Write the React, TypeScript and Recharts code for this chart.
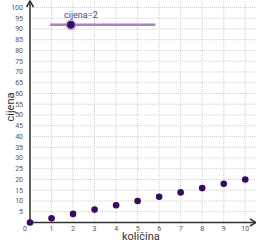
import { CartesianGrid, ReferenceDot, ReferenceLine, Scatter, ScatterChart, XAxis, YAxis } from "recharts";

const kolicina = [0, 1, 2, 3, 4, 5, 6, 7, 8, 9, 10];
const cijenaValues = [0, 2, 4, 6, 8, 10, 12, 14, 16, 18, 20];
const xTicks = [0, 1, 2, 3, 4, 5, 6, 7, 8, 9, 10];
const yTicks = [5, 10, 15, 20, 25, 30, 35, 40, 45, 50, 55, 60, 65, 70, 75, 80, 85, 90, 95, 100];

// slider (GeoGebra style), placed in data units
const sliderValue = 2;
const sliderFrom = 0.93;
const sliderTo = 5.82;
const sliderY = 91.9;
const sliderKnobX = 1.9;

const points = kolicina.map((k, i) => ({ x: k, y: cijenaValues[i] }));

const axisColor = "#333";
const knobColor = "#3a0868";
const sliderColor = "#a77fd0";

function XTick(props: any) {
  const { x, y, payload } = props;
  const dx = payload.value === 0 ? -5 : 0;
  return (
    <text x={x + dx} y={y} textAnchor="middle" fontSize={7} fill="#555" fontFamily="Roboto, sans-serif">
      {payload.value}
    </text>
  );
}

function YTick(props: any) {
  const { x, y, payload } = props;
  return (
    <text x={x + 1} y={y + 2.5} textAnchor="end" fontSize={7} fill="#555" fontFamily="Roboto, sans-serif">
      {payload.value}
    </text>
  );
}

function ArrowRight(props: any) {
  const { cx, cy } = props;
  return <path d={`M${cx - 6},${cy - 3.5} L${cx},${cy} L${cx - 6},${cy + 3.5}`} fill="none" stroke={axisColor} strokeWidth={1.5} />;
}

function ArrowUp(props: any) {
  const { cx, cy } = props;
  return <path d={`M${cx - 3.5},${cy + 6} L${cx},${cy} L${cx + 3.5},${cy + 6}`} fill="none" stroke={axisColor} strokeWidth={1.5} />;
}

function Knob(props: any) {
  const { cx, cy } = props;
  return (
    <g>
      <circle cx={cx} cy={cy} r={5.5} fill={sliderColor} opacity={0.6} />
      <circle cx={cx} cy={cy} r={3.8} fill={knobColor} />
      <text x={cx + 10} y={cy - 7} textAnchor="middle" fontSize={9} fill="#6a2fa5" fontFamily="Roboto, sans-serif">
        {`cijena=${sliderValue}`}
      </text>
    </g>
  );
}

function Dot(props: any) {
  const { cx, cy } = props;
  return <circle cx={cx} cy={cy} r={3.3} fill={knobColor} />;
}

export default function App() {
  return (
    <div style={{ position: "absolute", left: 0, top: 0, width: 256, height: 242, background: "#fff" }}>
      <ScatterChart width={256} height={242} margin={{ top: 1, right: 0, bottom: 0, left: 0 }}>
        <CartesianGrid stroke="#cfcfcf" strokeDasharray="1 1" horizontalValues={yTicks} verticalValues={xTicks} />
        <XAxis
          type="number"
          dataKey="x"
          domain={[0, 10.5]}
          ticks={xTicks}
          tickLine={false}
          axisLine={{ stroke: axisColor, strokeWidth: 1.5 }}
          tick={<XTick />}
          height={19.5}
          interval={0}
        />
        <YAxis
          type="number"
          dataKey="y"
          domain={[0, 103]}
          ticks={yTicks}
          tickLine={false}
          axisLine={{ stroke: axisColor, strokeWidth: 1.5 }}
          tick={<YTick />}
          width={30}
          interval={0}
        />
        <ReferenceLine
          segment={[{ x: sliderFrom, y: sliderY }, { x: sliderTo, y: sliderY }]}
          stroke={sliderColor}
          strokeWidth={2.5}
          ifOverflow="visible"
        />
        <ReferenceDot x={sliderKnobX} y={sliderY} r={5} shape={<Knob />} ifOverflow="visible" />
        <ReferenceDot x={10.5} y={0} r={1} shape={<ArrowRight />} ifOverflow="visible" />
        <ReferenceDot x={0} y={103} r={1} shape={<ArrowUp />} ifOverflow="visible" />
        <Scatter data={points} fill={knobColor} shape={<Dot />} isAnimationActive={false} />
      </ScatterChart>
      <div
        style={{
          position: "absolute",
          left: 122,
          top: 231,
          fontSize: 11,
          color: "#333",
          fontFamily: "Roboto, sans-serif",
          lineHeight: "12px",
        }}
      >
        količina
      </div>
      <div
        style={{
          position: "absolute",
          left: 11,
          top: 107,
          fontSize: 11,
          color: "#333",
          fontFamily: "Roboto, sans-serif",
          transform: "translate(-50%, -50%) rotate(-90deg)",
          lineHeight: "12px",
        }}
      >
        cijena
      </div>
    </div>
  );
}
